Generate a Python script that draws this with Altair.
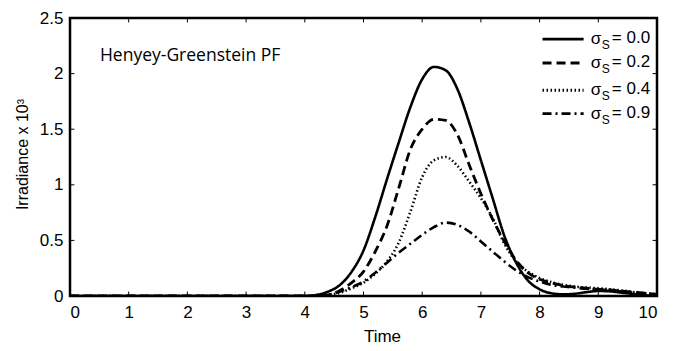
import altair as alt
import pandas as pd

# sample times (0, then 4.0 .. 10.0 step 0.2)
time = [0.0, 4.0, 4.2, 4.4, 4.6, 4.8, 5.0, 5.2, 5.4, 5.6, 5.8, 6.0, 6.2, 6.4, 6.6, 6.8,
        7.0, 7.2, 7.4, 7.6, 7.8, 8.0, 8.2, 8.4, 8.6, 8.8, 9.0, 9.2, 9.4, 9.6, 9.8, 10.0]

s00 = [0, 0, 0.01, 0.04, 0.10, 0.22, 0.41, 0.71, 1.05, 1.38, 1.70, 1.95, 2.06, 2.03, 1.86, 1.56,
       1.22, 0.88, 0.54, 0.30, 0.14, 0.06, 0.025, 0.015, 0.02, 0.035, 0.045, 0.042, 0.03, 0.018, 0.007, 0]
s02 = [0, 0, 0.0, 0.01, 0.05, 0.12, 0.22, 0.40, 0.63, 0.97, 1.32, 1.50, 1.59, 1.58, 1.45, 1.18,
       0.92, 0.69, 0.49, 0.32, 0.21, 0.15, 0.12, 0.095, 0.08, 0.07, 0.06, 0.055, 0.045, 0.035, 0.025, 0.015]
s04 = [0, 0, 0.0, 0.01, 0.03, 0.07, 0.12, 0.20, 0.31, 0.48, 0.76, 1.07, 1.22, 1.25, 1.17, 1.03,
       0.88, 0.70, 0.47, 0.31, 0.22, 0.16, 0.125, 0.10, 0.085, 0.075, 0.07, 0.06, 0.05, 0.035, 0.025, 0.015]
s09 = [0, 0, 0.0, 0.01, 0.04, 0.08, 0.13, 0.21, 0.30, 0.39, 0.47, 0.55, 0.62, 0.66, 0.64, 0.58,
       0.49, 0.40, 0.31, 0.23, 0.17, 0.13, 0.10, 0.085, 0.075, 0.065, 0.06, 0.05, 0.04, 0.03, 0.02, 0.01]

series_names = ["0.0", "0.2", "0.4", "0.9"]
series_values = [s00, s02, s04, s09]
dashes = [[1, 0], [9, 5], [1.5, 2.5], [9, 4, 2, 4]]
widths = [2.6, 2.8, 2.6, 2.6]

x_ticks = [0, 1, 2, 3, 4, 5, 6, 7, 8, 9, 10]
y_ticks = [0, 0.5, 1, 1.5, 2, 2.5]

# legend rows (data coordinates)
legend_y = [2.31, 2.095, 1.85, 1.64]

xscale = alt.Scale(domain=[0, 10], nice=False, zero=False)
yscale = alt.Scale(domain=[0, 2.5], nice=False)

FONT = "Liberation Sans"

layers = []
for name, vals, d, w in zip(series_names, series_values, dashes, widths):
    df = pd.DataFrame({"t": time, "v": vals})
    layers.append(
        alt.Chart(df).mark_line(color="black", strokeWidth=w, strokeDash=d,
                                interpolate="monotone", clip=True).encode(
            x=alt.X("t:Q", scale=xscale,
                    axis=alt.Axis(values=x_ticks, format="~g", title="Time", ticks=False,
                                  domain=False, grid=False, labelFont=FONT, labelFontSize=17,
                                  labelColor="black", labelPadding=8,
                                  titleFont=FONT, titleFontSize=17, titleFontWeight="normal",
                                  titleColor="black", titleX=312, titleY=40,
                                  titleBaseline="middle", titleAlign="center")),
            y=alt.Y("v:Q", scale=yscale,
                    axis=alt.Axis(values=y_ticks, format="~g", title="Irradiance x 10³",
                                  ticks=False, domain=False, grid=False,
                                  labelFont=FONT, labelFontSize=17, labelColor="black",
                                  labelPadding=7, titleFont=FONT, titleFontSize=16,
                                  titleFontWeight="normal", titleColor="black",
                                  titleX=-48, titleY=136, titleBaseline="middle",
                                  titleAlign="center", titleAngle=270)),
        )
    )

# inward tick marks on all four sides
tick_len_y = 0.04
tick_len_x = 0.075
bx = pd.DataFrame({"x": x_ticks, "y1": [0] * len(x_ticks), "y2": [tick_len_y] * len(x_ticks)})
tx = pd.DataFrame({"x": x_ticks, "y1": [2.5 - tick_len_y] * len(x_ticks), "y2": [2.5] * len(x_ticks)})
ly = pd.DataFrame({"y": y_ticks, "x1": [0] * len(y_ticks), "x2": [tick_len_x] * len(y_ticks)})
ry = pd.DataFrame({"y": y_ticks, "x1": [10 - tick_len_x] * len(y_ticks), "x2": [10] * len(y_ticks)})
for df in (bx, tx):
    layers.append(alt.Chart(df).mark_rule(color="black", strokeWidth=1).encode(
        x=alt.X("x:Q", scale=xscale), y=alt.Y("y1:Q", scale=yscale), y2="y2:Q"))
for df in (ly, ry):
    layers.append(alt.Chart(df).mark_rule(color="black", strokeWidth=1).encode(
        y=alt.Y("y:Q", scale=yscale), x=alt.X("x1:Q", scale=xscale), x2="x2:Q"))

# annotation
ann = pd.DataFrame({"x": [0.51], "y": [2.16], "t": ["Henyey-Greenstein PF"]})
layers.append(alt.Chart(ann).mark_text(align="left", baseline="middle", font="Open Sans",
                                       fontSize=17.5, color="black").encode(
    x=alt.X("x:Q", scale=xscale), y=alt.Y("y:Q", scale=yscale), text="t:N"))

# legend
for name, d, w, ly_ in zip(series_names, dashes, widths, legend_y):
    seg = pd.DataFrame({"x": [8.05], "x2": [8.75], "y": [ly_]})
    layers.append(alt.Chart(seg).mark_rule(color="black", strokeWidth=w + 0.3, strokeDash=d).encode(
        x=alt.X("x:Q", scale=xscale), x2="x2:Q", y=alt.Y("y:Q", scale=yscale)))
    t1 = pd.DataFrame({"x": [8.87], "y": [ly_], "t": ["σ"]})
    layers.append(alt.Chart(t1).mark_text(align="left", baseline="middle", font=FONT,
                                          fontSize=17, color="black", dy=0).encode(
        x=alt.X("x:Q", scale=xscale), y=alt.Y("y:Q", scale=yscale), text="t:N"))
    t2 = pd.DataFrame({"x": [9.06], "y": [ly_], "t": ["S"]})
    layers.append(alt.Chart(t2).mark_text(align="left", baseline="middle", font=FONT,
                                          fontSize=12, color="black", dy=6).encode(
        x=alt.X("x:Q", scale=xscale), y=alt.Y("y:Q", scale=yscale), text="t:N"))
    t3 = pd.DataFrame({"x": [9.23], "y": [ly_], "t": ["= " + name]})
    layers.append(alt.Chart(t3).mark_text(align="left", baseline="middle", font=FONT,
                                          fontSize=17, color="black", dy=-1).encode(
        x=alt.X("x:Q", scale=xscale), y=alt.Y("y:Q", scale=yscale), text="t:N"))

chart = alt.layer(*layers).properties(
    width=587, height=278,
    autosize=alt.AutoSizeParams(type="none"),
    padding={"left": 70, "top": 18, "right": 28, "bottom": 55},
    background="white",
).configure_view(stroke="black", strokeWidth=2.5)

chart.save("out.html", embed_options={"renderer": "svg", "actions": False})
